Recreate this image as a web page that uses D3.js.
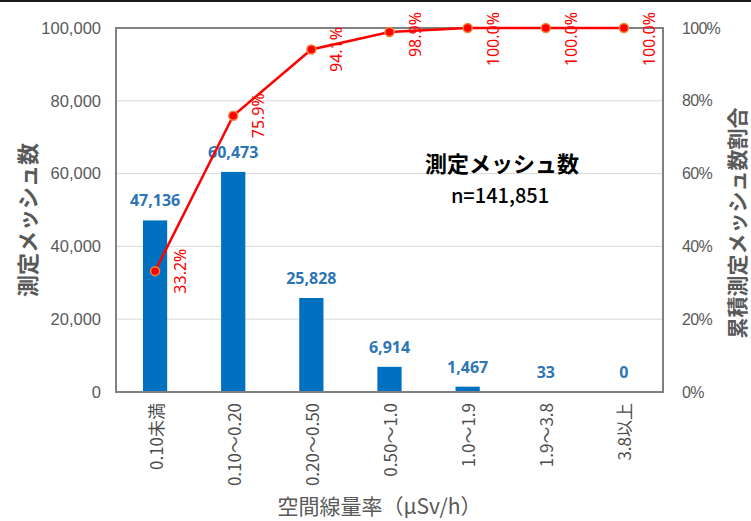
<!DOCTYPE html>
<html><head><meta charset="utf-8">
<script src="https://cdn.jsdelivr.net/npm/d3@7"></script>
<style>body{margin:0;background:#fff}svg{display:block}</style>
</head><body>
<svg id="c" width="751" height="521"></svg>
<script>
const categories = ["0.10未満","0.10～0.20","0.20～0.50","0.50～1.0","1.0～1.9","1.9～3.8","3.8以上"];
const counts = [47136, 60473, 25828, 6914, 1467, 33, 0];
const cumPct = [33.2, 75.9, 94.1, 98.9, 100.0, 100.0, 100.0];
const leftTicks = [0, 20000, 40000, 60000, 80000, 100000];
const rightTicks = [0, 20, 40, 60, 80, 100];
const total = 141851;

const svg = d3.select("#c");
const m = {l:116, r:663, t:28, b:392};
const x = d3.scaleBand().domain(categories).range([m.l, m.r]).paddingInner(0.69).paddingOuter(0.345);
const y = d3.scaleLinear().domain([0,100000]).range([m.b, m.t]);
const yp = d3.scaleLinear().domain([0,100]).range([m.b, m.t]);
const cx = d => x(d) + x.bandwidth()/2;
const gray = "#595959";
const jp = "'Noto Sans CJK JP', sans-serif";
const lat = "'Liberation Sans', Arial, sans-serif";

svg.append("rect").attr("x",0).attr("y",0).attr("width",751).attr("height",2).attr("fill","#1a1a1a");

// gridlines
svg.append("g").selectAll("line").data(leftTicks.slice(1,-1)).join("line")
  .attr("x1",m.l).attr("x2",m.r).attr("y1",d=>y(d)).attr("y2",d=>y(d))
  .attr("stroke","#d9d9d9").attr("stroke-width",1);

// left axis
const la = svg.append("g").attr("transform",`translate(${m.l-15},0)`)
  .call(d3.axisLeft(y).tickValues(leftTicks).tickSize(0).tickPadding(0).tickFormat(d3.format(",")));
la.select(".domain").remove();
la.selectAll("text").attr("fill",gray).style("font-family",lat).style("font-size","16.5px");

// right axis
const ra = svg.append("g").attr("transform",`translate(${m.r+19},0)`)
  .call(d3.axisRight(yp).tickValues(rightTicks).tickSize(0).tickPadding(0).tickFormat(d=>d+"%"));
ra.select(".domain").remove();
ra.selectAll("text").attr("fill",gray).style("font-family",lat).style("font-size","16px").style("letter-spacing","-0.7px");

// bars
svg.append("g").selectAll("rect").data(categories).join("rect")
  .attr("x",d=>x(d)).attr("width",x.bandwidth())
  .attr("y",(d,i)=>y(counts[i])).attr("height",(d,i)=>m.b-y(counts[i]))
  .attr("fill","#0070c0");

// frame
svg.append("rect").attr("x",m.l).attr("y",m.t).attr("width",m.r-m.l).attr("height",m.b-m.t)
  .attr("fill","none").attr("stroke","#808080").attr("stroke-width",2);

// bar labels
svg.append("g").selectAll("text").data(categories).join("text")
  .attr("x",d=>cx(d)).attr("y",(d,i)=>y(counts[i])-14)
  .attr("text-anchor","middle").attr("fill","#2e75b6")
  .style("font-family","'Open Sans', sans-serif").style("font-weight","700").style("font-size","16px")
  .text((d,i)=>d3.format(",")(counts[i]));

// line
const line = d3.line().x((d,i)=>cx(categories[i])).y(d=>yp(d));
svg.append("path").datum(cumPct).attr("d",line).attr("fill","none")
  .attr("stroke","#ff0000").attr("stroke-width",2.5);
svg.append("g").selectAll("circle").data(cumPct).join("circle")
  .attr("cx",(d,i)=>cx(categories[i])).attr("cy",d=>yp(d)).attr("r",4.5)
  .attr("fill","#ff0000").attr("stroke","#f4883a").attr("stroke-width",1.5);

// percent labels
const pl = svg.append("g").selectAll("text").data(cumPct).join("text")
  .attr("text-anchor","middle").attr("dominant-baseline","central")
  .attr("fill","#ff0000").style("font-family","'Noto Sans', sans-serif").style("font-size","16px")
  .text(d=>d.toFixed(1)+"%");
pl.each(function(d,i){
  const len = this.getComputedTextLength();
  const cy = Math.max(yp(d), 12 + len/2);
  d3.select(this).attr("transform",`translate(${cx(categories[i])+25},${cy}) rotate(-90)`);
});

// x labels
svg.append("g").selectAll("text").data(categories).join("text")
  .attr("transform",d=>`translate(${cx(d)},${m.b+11}) rotate(-90)`)
  .attr("text-anchor","end").attr("dominant-baseline","central")
  .attr("fill","#4d4d4d").style("font-family",jp).style("font-size","17px")
  .text(d=>d);

// axis titles
svg.append("text").attr("transform",`translate(26,${(m.t+m.b)/2+10}) rotate(-90)`)
  .attr("text-anchor","middle").attr("dominant-baseline","central")
  .attr("fill",gray).style("font-family",jp).style("font-weight","700").style("font-size","22px")
  .text("測定メッシュ数");
svg.append("text").attr("transform",`translate(736,${(m.t+m.b)/2+13}) rotate(-90)`)
  .attr("text-anchor","middle").attr("dominant-baseline","central")
  .attr("fill",gray).style("font-family",jp).style("font-weight","700").style("font-size","21px")
  .text("累積測定メッシュ数割合");
svg.append("text").attr("x",(m.l+m.r)/2-10).attr("y",514)
  .attr("text-anchor","middle")
  .attr("fill",gray).style("font-family",jp).style("font-size","21px")
  .text("空間線量率（μSv/h）");

// annotation
svg.append("text").attr("x",502).attr("y",162).attr("text-anchor","middle").attr("dominant-baseline","central")
  .attr("fill","#000").style("font-family",jp).style("font-weight","700").style("font-size","22px")
  .text("測定メッシュ数");
svg.append("text").attr("x",500).attr("y",194).attr("text-anchor","middle").attr("dominant-baseline","central")
  .attr("fill","#000").style("font-family",jp).style("font-weight","500").style("font-size","20px")
  .text("n=" + d3.format(",")(total));
</script>
</body></html>
